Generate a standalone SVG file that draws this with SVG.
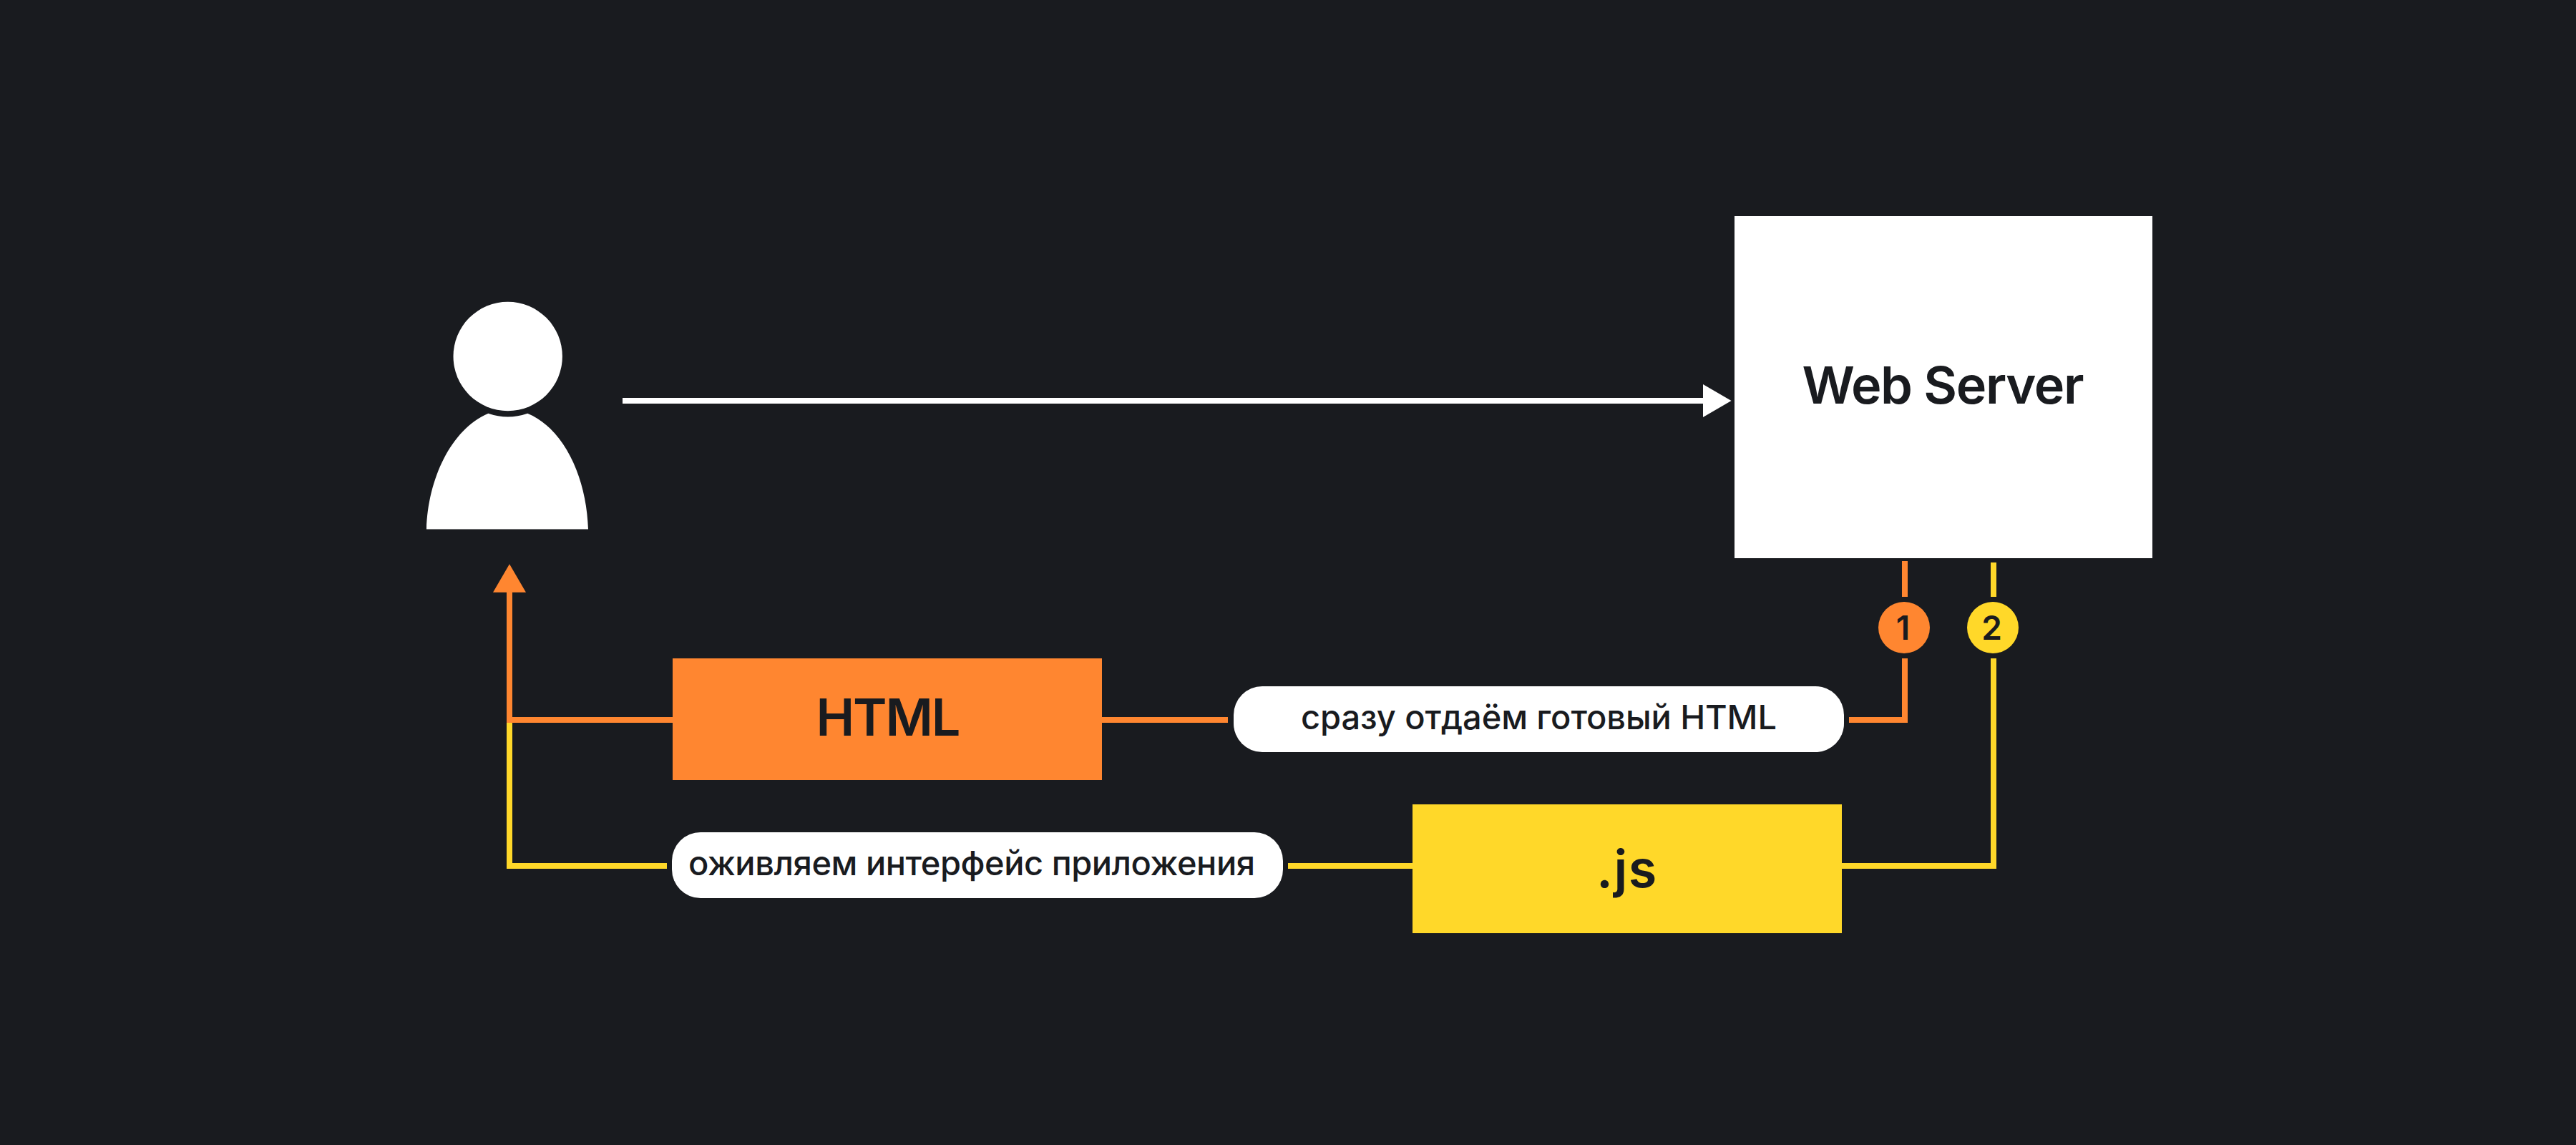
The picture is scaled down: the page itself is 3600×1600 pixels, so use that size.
<svg xmlns="http://www.w3.org/2000/svg" width="3600" height="1600" viewBox="0 0 3600 1600">
<style>
.w{fill:#fff}.o{fill:#ff8630}.y{fill:#ffd829}
text{font-family:"Inter","Liberation Sans",sans-serif;fill:#191b1f;font-weight:600;text-anchor:middle}
.big{font-size:72px}.lab{font-size:47px;font-weight:550}.num{font-size:46px}
.c{fill:none;stroke-width:8;stroke-linecap:butt;stroke-linejoin:miter}
.co{stroke:#ff8630}.cy{stroke:#ffd829}.cw{stroke:#fff}
</style>
<rect width="3600" height="1600" fill="#191b1f"/>
<g id="connectors">
<path class="c cy" d="M712 1008V1210H932"/>
<path class="c cy" d="M1800 1210H1974"/>
<path class="c cy" d="M2574 1210H2786V920"/>
<path class="c cy" d="M2786 786V834"/>
<path class="c co" d="M712 824V1006H940"/>
<path class="c co" d="M1540 1006H1716"/>
<path class="c co" d="M2584 1006H2662V920"/>
<path class="c co" d="M2662 784V834"/>
<path class="c cw" d="M870 560H2382"/>
<polygon class="w" points="2380,537 2419.5,560 2380,583"/>
<polygon class="o" points="712,788.3 735,827.7 689,827.7"/>
</g>
<g id="user">
<circle class="w" cx="709.7" cy="498" r="76.2"/>
<path class="w" d="M596 739.5C598 670 630 600 682.3 577.7A84.3 84.3 0 0 0 737.3 577.7C790 600 820 670 822 739.5Z"/>
</g>
<g id="web-server">
<rect class="w" x="2424" y="302" width="584" height="478"/>
<text class="big" x="2715.5" y="564" textLength="394">Web Server</text>
</g>
<g id="html-box">
<rect class="o" x="940" y="920" width="600" height="170"/>
<text class="big" x="1241.5" y="1028" textLength="202">HTML</text>
</g>
<g id="js-box">
<rect class="y" x="1974" y="1124" width="600" height="180"/>
<text class="big" x="2274" y="1240" style="letter-spacing:1.5px">.js</text>
</g>
<g id="label-html">
<rect class="w" x="1724" y="959" width="853" height="92" rx="40"/>
<text class="lab" x="2150.5" y="1019" textLength="665">сразу отдаём готовый HTML</text>
</g>
<g id="label-js">
<rect class="w" x="939" y="1163" width="854" height="92" rx="40"/>
<text class="lab" x="962" y="1223" style="text-anchor:start;letter-spacing:-0.47px">оживляем интерфейс приложения</text>
</g>
<g id="badge-1">
<circle class="o" cx="2661" cy="877" r="36"/>
<text class="num" x="2659.5" y="894">1</text>
</g>
<g id="badge-2">
<circle class="y" cx="2785" cy="877" r="36"/>
<text class="num" x="2783.5" y="894">2</text>
</g>
</svg>
